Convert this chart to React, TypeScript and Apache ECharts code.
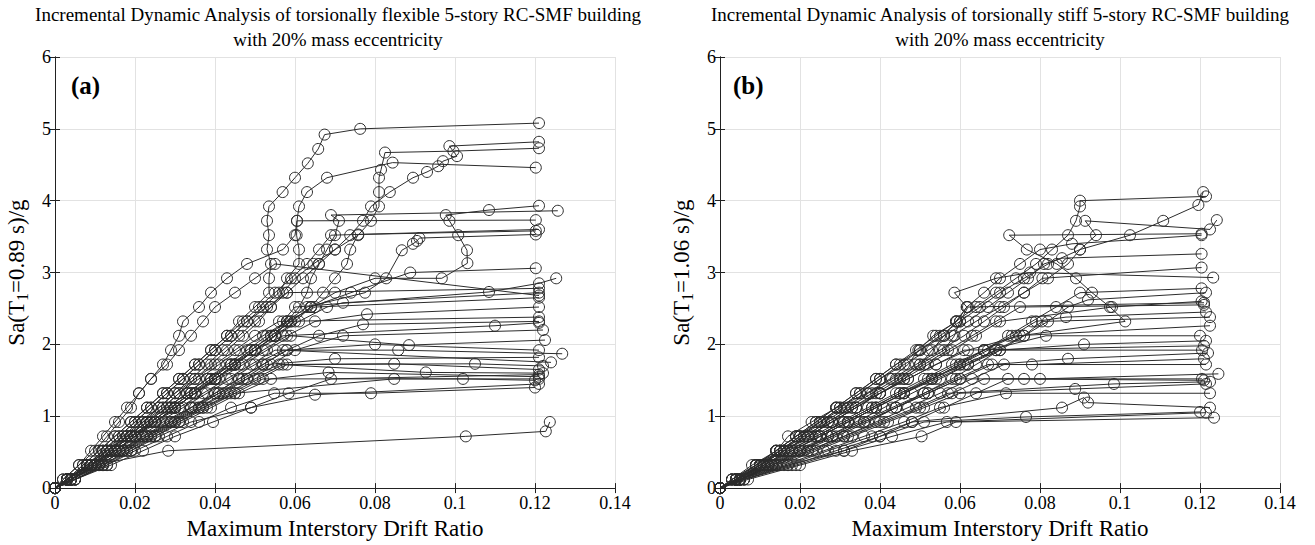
import React, { useEffect, useRef } from "react";
import * as echarts from "echarts";

// Sa levels of the hunting steps (g)
const SA_LEVELS = [0, 0.12, 0.32, 0.52, 0.72, 0.92, 1.12, 1.32, 1.52, 1.72, 1.92, 2.12, 2.32, 2.52, 2.72, 2.92, 3.12, 3.32, 3.52, 3.72, 3.92, 4.12, 4.32, 4.52, 4.72, 4.92];
const X_TICKS = [0, 0.02, 0.04, 0.06, 0.08, 0.1, 0.12, 0.14];
const Y_TICKS = [0, 1, 2, 3, 4, 5, 6];

const TITLE_A = ["Incremental Dynamic Analysis of torsionally flexible 5-story RC-SMF building", "with 20% mass eccentricity"];
const TITLE_B = ["Incremental Dynamic Analysis of torsionally stiff 5-story RC-SMF building", "with 20% mass eccentricity"];
const X_NAME = "Maximum Interstory Drift Ratio";
const Y_NAME_A = ["Sa(T", "1", "=0.89 s)/g"];
const Y_NAME_B = ["Sa(T", "1", "=1.06 s)/g"];

type Rec = { d: number[]; tail: number[][] };

// (a) torsionally flexible: drift at each Sa level, then fill/collapse points [drift, Sa]
const flexibleRecords: Rec[] = [
  { d: [0, .003, .007, .011, .015, .019, .023, .027, .031, .035, .039, .043, .046, .050, .0535, .0535, .054, .053, .0535, .053, .0535, .0569, .060, .0632, .0658, .0674], tail: [[.0763, 5.0], [.121, 5.08]] },
  { d: [0, .002, .006, .010, .013, .016, .019, .021, .024, .027, .029, .031, .032, .036, .039, .043, .048, .057, .060, .0605, .061, .063, .068], tail: [[.0844, 4.53], [.1202, 4.46]] },
  { d: [0, .003, .008, .013, .017, .022, .026, .030, .034, .038, .042, .046, .050, .054, .058, .062, .066, .070, .0758, .079, .081, .081, .081], tail: [[.0815, 4.43], [.0825, 4.67], [.0996, 4.69], [.121, 4.73]] },
  { d: [0, .003, .008, .013, .018, .023, .027, .031, .035, .039, .043, .047, .051, .054, .057, .060, .0646, .070, .0738, .077, .079, .0837, .0895], tail: [[.093, 4.40], [.0958, 4.48], [.097, 4.55], [.1005, 4.62], [.0986, 4.76], [.121, 4.82]] },
  { d: [0, .003, .009, .014, .019, .024, .029, .034, .039, .044, .049, .054, .059, .064, .070, .080], tail: [[.0967, 2.92], [.1031, 3.13], [.103, 3.31], [.1008, 3.52], [.0986, 3.72], [.0977, 3.80], [.1085, 3.87], [.121, 3.93]] },
  { d: [0, .004, .009, .015, .020, .025, .030, .035, .040, .045, .050, .055, .058, .061, .063, .064, .066, .068, .070, .071], tail: [[.069, 3.80], [.1257, 3.86]] },
  { d: [0, .003, .008, .012, .016, .020, .024, .028, .032, .036, .040, .044, .048, .052, .056, .058, .061, .061, .0604, .0605], tail: [[.1202, 3.73]] },
  { d: [0, .003, .009, .015, .020, .025, .030, .035, .040, .045, .050, .055, .060, .064, .067, .070, .073, .0738], tail: [[.0758, 3.53], [.1202, 3.58]] },
  { d: [0, .003, .008, .013, .018, .023, .028, .033, .038, .043, .048, .053, .058, .063, .0775, .0828], tail: [[.0867, 3.31], [.0895, 3.40], [.0905, 3.44], [.0911, 3.48], [.1202, 3.53]] },
  { d: [0, .003, .009, .014, .019, .024, .029, .034, .039, .044, .049, .054, .059, .064, .074], tail: [[.0888, 3.0], [.1202, 3.06]] },
  { d: [0, .004, .010, .015, .020, .025, .030, .035, .040, .045, .050, .055, .057, .060], tail: [[.1085, 2.73], [.121, 2.85], [.1253, 2.92]] },
  { d: [0, .003, .008, .012, .016, .020, .024, .028, .032, .036, .040, .044, .048, .053, .058], tail: [[.121, 2.78]] },
  { d: [0, .004, .010, .015, .020, .025, .030, .035, .040, .045, .050, .055, .061, .068], tail: [[.072, 2.58], [.121, 2.72]] },
  { d: [0, .003, .009, .013, .018, .022, .027, .031, .036, .041, .046, .052, .058, .065], tail: [[.121, 2.65]] },
  { d: [0, .004, .009, .014, .019, .024, .029, .034, .040, .046, .052, .058, .065], tail: [[.078, 2.42], [.121, 2.52]] },
  { d: [0, .003, .008, .012, .017, .021, .026, .030, .035, .040, .045, .050, .056], tail: [[.121, 2.38]] },
  { d: [0, .004, .011, .017, .023, .029, .034, .040, .046, .052, .058, .066], tail: [[.077, 2.28], [.121, 2.32]] },
  { d: [0, .003, .008, .013, .018, .023, .028, .033, .038, .044, .050, .057], tail: [[.110, 2.26], [.121, 2.30]] },
  { d: [0, .005, .012, .018, .024, .030, .036, .042, .048, .054, .060], tail: [[.072, 2.12], [.122, 2.20]] },
  { d: [0, .003, .009, .014, .019, .025, .030, .035, .041, .047, .053, .059], tail: [[.0885, 1.99], [.1225, 2.06]] },
  { d: [0, .004, .010, .016, .022, .028, .034, .040, .046, .052, .058], tail: [[.080, 2.0], [.121, 1.92]] },
  { d: [0, .003, .008, .013, .019, .025, .031, .037, .043, .049, .055], tail: [[.0858, 1.92], [.1268, 1.87]] },
  { d: [0, .004, .011, .017, .023, .029, .035, .041, .047, .053], tail: [[.070, 1.80], [.121, 1.82]] },
  { d: [0, .003, .009, .015, .020, .026, .032, .038, .044, .050, .057], tail: [[.124, 1.75]] },
  { d: [0, .005, .013, .019, .025, .031, .037, .044, .051, .058], tail: [[.105, 1.73], [.122, 1.70]] },
  { d: [0, .004, .010, .016, .022, .029, .036, .043, .050, .057], tail: [[.0848, 1.73], [.121, 1.65]] },
  { d: [0, .003, .009, .015, .021, .027, .034, .041, .048, .056], tail: [[.0927, 1.61], [.122, 1.60]] },
  { d: [0, .005, .012, .018, .025, .032, .039, .046, .054], tail: [[.0684, 1.61], [.121, 1.55]] },
  { d: [0, .004, .011, .017, .024, .031, .038, .045, .052], tail: [[.102, 1.52], [.120, 1.50]] },
  { d: [0, .004, .010, .016, .023, .030, .037, .045], tail: [[.0848, 1.52], [.121, 1.52]] },
  { d: [0, .005, .013, .020, .028, .036, .044, .0548], tail: [[.079, 1.32], [.120, 1.40]] },
  { d: [0, .004, .012, .019, .026, .034, .049, .0584], tail: [[.069, 1.52], [.121, 1.58]] },
  { d: [0, .004, .010, .0283], tail: [[.1027, .72], [.1227, .79], [.1237, .92]] },
  { d: [0, .002, .006, .009, .012, .015, .018, .021, .024, .028, .031, .034, .037, .040, .045, .050, .055], tail: [[.121, 2.68]] },
  { d: [0, .003, .007, .011, .015, .019, .023, .027, .031, .035, .039, .043, .047, .051, .055, .059, .063, .066, .069], tail: [[.121, 3.60]] },
  { d: [0, .005, .014, .022, .030, .0395, .049], tail: [[.065, 1.30], [.121, 1.45]] },
];

// (b) torsionally stiff
const stiffRecords: Rec[] = [
  { d: [0, .004, .009, .014, .019, .024, .029, .034, .039, .044, .049, .054, .059, .064, .069, .074, .079, .083, .087, .089, .090], tail: [[.090, 4.0], [.1215, 4.06]] },
  { d: [0, .004, .010, .015, .020, .025, .030, .035, .040, .045, .050, .055, .060, .065, .070, .076, .082, .090, .1025, .1108], tail: [[.1196, 3.94], [.1208, 4.12]] },
  { d: [0, .004, .010, .015, .020, .025, .030, .035, .040, .046, .052, .058, .064, .070, .076, .082, .087, .090, .094, .0913], tail: [[.1225, 3.60], [.1242, 3.73]] },
  { d: [0, .004, .010, .016, .022, .028, .034, .040, .047, .054, .062, .075, .1013], tail: [[.0975, 2.52], [.093, 2.72], [.089, 2.92], [.0842, 3.12], [.0767, 3.32], [.0723, 3.52], [.1204, 3.54]] },
  { d: [0, .004, .009, .014, .019, .024, .029, .034, .039, .044, .050, .056, .062, .067, .072, .077, .081], tail: [[.0855, 3.20], [.1204, 3.26]] },
  { d: [0, .003, .009, .014, .019, .025, .031, .037, .043, .049, .055, .061, .066, .071, .076, .0806], tail: [[.1204, 3.07]] },
  { d: [0, .004, .010, .016, .022, .028, .034, .040, .046, .050, .053, .056, .059, .0617, .0586, .069], tail: [[.0775, 3.0], [.1233, 2.93]] },
  { d: [0, .004, .011, .018, .025, .032, .039, .046, .053, .060, .066, .072, .078, .084], tail: [[.090, 2.72], [.1204, 2.78]] },
  { d: [0, .005, .013, .021, .029, .037, .044, .051, .058, .064, .070, .076, .082, .087], tail: [[.092, 2.62], [.1215, 2.72]] },
  { d: [0, .004, .010, .016, .022, .028, .034, .040, .046, .052, .058, .064, .070], tail: [[.098, 2.52], [.1204, 2.60]] },
  { d: [0, .003, .009, .015, .021, .027, .033, .039, .045, .051, .057, .063, .069, .075], tail: [[.121, 2.55]] },
  { d: [0, .004, .011, .017, .024, .031, .038, .045, .052, .059, .066, .073, .079], tail: [[.0865, 2.38], [.1215, 2.45]] },
  { d: [0, .005, .013, .020, .027, .034, .041, .048, .055, .062, .069, .076], tail: [[.0805, 2.32], [.1225, 2.38]] },
  { d: [0, .004, .010, .016, .023, .030, .037, .044, .051, .058, .066, .074], tail: [[.1225, 2.26]] },
  { d: [0, .005, .012, .018, .025, .032, .039, .046, .053, .060, .067], tail: [[.0815, 2.12], [.1200, 2.12]] },
  { d: [0, .004, .011, .018, .025, .032, .039, .046, .054, .062, .070], tail: [[.091, 2.0], [.1215, 2.05]] },
  { d: [0, .003, .009, .015, .021, .027, .033, .040, .047, .054, .061], tail: [[.1210, 1.98]] },
  { d: [0, .004, .011, .017, .024, .031, .038, .045, .053, .061, .069], tail: [[.1205, 1.92]] },
  { d: [0, .005, .013, .020, .028, .036, .044, .052, .060, .068], tail: [[.087, 1.80], [.1220, 1.88]] },
  { d: [0, .004, .012, .019, .027, .035, .043, .051, .059, .067], tail: [[.078, 1.72], [.121, 1.80]] },
  { d: [0, .005, .014, .022, .031, .039, .047, .055, .063, .071], tail: [[.1215, 1.72]] },
  { d: [0, .004, .012, .020, .028, .036, .044, .052, .060], tail: [[.080, 1.52], [.1246, 1.59]] },
  { d: [0, .005, .014, .023, .032, .041, .050, .058, .066], tail: [[.076, 1.52], [.1205, 1.52]] },
  { d: [0, .004, .013, .022, .031, .040, .049, .057], tail: [[.0985, 1.45], [.1225, 1.48]] },
  { d: [0, .005, .015, .024, .033, .042, .051, .060], tail: [[.0888, 1.38], [.1215, 1.45]] },
  { d: [0, .005, .016, .026, .036, .046, .055, .0715], tail: [[.1225, 1.32]] },
  { d: [0, .006, .017, .027, .038, .048], tail: [[.0855, 1.12], [.091, 1.26], [.092, 1.19], [.1225, 1.12]] },
  { d: [0, .006, .018, .029, .040, .051], tail: [[.0765, .99], [.1200, 1.06]] },
  { d: [0, .006, .019, .031, .043, .0567], tail: [[.1215, 1.05]] },
  { d: [0, .007, .020, .033, .0504], tail: [[.059, .92], [.1235, .98]] },
  { d: [0, .003, .008, .0142, .017, .0229, .0292, .0367, .0425, .047, .0496, .0533, .0592, .0617, .066, .070, .075, .080], tail: [[.088, 3.40], [.1204, 3.52]] },
  { d: [0, .004, .010, .015, .020, .026, .032, .038, .044, .050, .056, .0586, .060, .062], tail: [[.1210, 2.58]] },
  { d: [0, .005, .017, .031, .040, .048, .056, .064, .072], tail: [[.121, 1.50]] },
];

const LINE_COLOR = "#2c2c2c";
const SERIF = "'Liberation Serif', 'DejaVu Serif', serif";

function toPoints(r: Rec): number[][] {
  return r.d.map((x, i) => [x, SA_LEVELS[i]]).concat(r.tail);
}

function buildOption() {
  const grids = [
    { left: 55, top: 57, width: 560, height: 435 },
    { left: 720, top: 57, width: 560, height: 435 },
  ];
  const xFmt = (v: number) => (v === 0 ? "0" : String(+v.toFixed(2)));
  const xAxes: any[] = [];
  const yAxes: any[] = [];
  const yNames = [Y_NAME_A, Y_NAME_B];
  grids.forEach((_, gi) => {
    xAxes.push({
      type: "value", gridIndex: gi, position: "bottom", min: X_TICKS[0], max: X_TICKS[X_TICKS.length - 1], interval: 0.02,
      name: X_NAME, nameLocation: "middle", nameGap: 25,
      nameTextStyle: { fontFamily: SERIF, fontSize: 23, color: "#000" },
      axisLine: { show: true, lineStyle: { color: "#222", width: 1 } },
      axisTick: { show: true, inside: true, length: 5, lineStyle: { color: "#222" } },
      axisLabel: { formatter: xFmt, fontFamily: SERIF, fontSize: 18, color: "#000", margin: 6 },
      splitLine: { show: true, lineStyle: { color: "#e2e2e2", width: 1 } },
    });
    xAxes.push({
      type: "value", gridIndex: gi, position: "top", min: 0, max: 0.14, interval: 0.02,
      axisLine: { show: true, lineStyle: { color: "#222", width: 1 } },
      axisTick: { show: true, inside: true, length: 5, lineStyle: { color: "#222" } },
      axisLabel: { show: false }, splitLine: { show: false },
    });
    yAxes.push({
      type: "value", gridIndex: gi, position: "left", min: Y_TICKS[0], max: Y_TICKS[Y_TICKS.length - 1], interval: 1,
      name: yNames[gi][0] + "{sub|" + yNames[gi][1] + "}" + yNames[gi][2],
      nameLocation: "middle", nameGap: 25, nameRotate: 90,
      nameTextStyle: { fontFamily: SERIF, fontSize: 23, color: "#000", rich: { sub: { fontFamily: SERIF, fontSize: 16, color: "#000", verticalAlign: "bottom", padding: [12, 0, 0, 0] } } },
      axisLine: { show: true, lineStyle: { color: "#222", width: 1 } },
      axisTick: { show: true, inside: true, length: 5, lineStyle: { color: "#222" } },
      axisLabel: { fontFamily: SERIF, fontSize: 18, color: "#000", margin: 4 },
      splitLine: { show: true, lineStyle: { color: "#e2e2e2", width: 1 } },
    });
    yAxes.push({
      type: "value", gridIndex: gi, position: "right", min: 0, max: 6, interval: 1,
      axisLine: { show: true, lineStyle: { color: "#222", width: 1 } },
      axisTick: { show: true, inside: true, length: 5, lineStyle: { color: "#222" } },
      axisLabel: { show: false }, splitLine: { show: false },
    });
  });

  const series: any[] = [];
  [flexibleRecords, stiffRecords].forEach((recs, gi) => {
    recs.forEach((r) => {
      series.push({
        type: "line", xAxisIndex: gi * 2, yAxisIndex: gi * 2, data: toPoints(r),
        symbol: "circle", symbolSize: 11, showAllSymbol: true,
        lineStyle: { color: LINE_COLOR, width: 1 },
        itemStyle: { color: "rgba(0,0,0,0)", borderColor: LINE_COLOR, borderWidth: 1 },
        emphasis: { disabled: true }, silent: true, z: 3,
      });
    });
  });

  const titleText = (lines: string[], cx: number) =>
    lines.map((t, i) => ({
      type: "text", x: cx, y: 14 + i * 25,
      style: { text: t, fill: "#000", font: "19px " + SERIF, textAlign: "center", textVerticalAlign: "middle" },
    }));

  return {
    animation: false,
    grid: grids.map((g) => ({ ...g, show: false })),
    xAxis: xAxes,
    yAxis: yAxes,
    series,
    graphic: [
      ...titleText(TITLE_A, 338),
      ...titleText(TITLE_B, 1000),
      { type: "text", x: 71, y: 73, style: { text: "(a)", fill: "#000", font: "bold 25px " + SERIF } },
      { type: "text", x: 733, y: 73, style: { text: "(b)", fill: "#000", font: "bold 25px " + SERIF } },
    ],
  };
}

export default function App() {
  const ref = useRef<HTMLDivElement>(null);
  useEffect(() => {
    if (!ref.current) return;
    const chart = echarts.init(ref.current, undefined, { renderer: "svg" });
    chart.setOption(buildOption() as any);
    return () => chart.dispose();
  }, []);
  return <div ref={ref} style={{ position: "fixed", left: 0, top: 0, width: 1315, height: 545, background: "#fff" }} />;
}
